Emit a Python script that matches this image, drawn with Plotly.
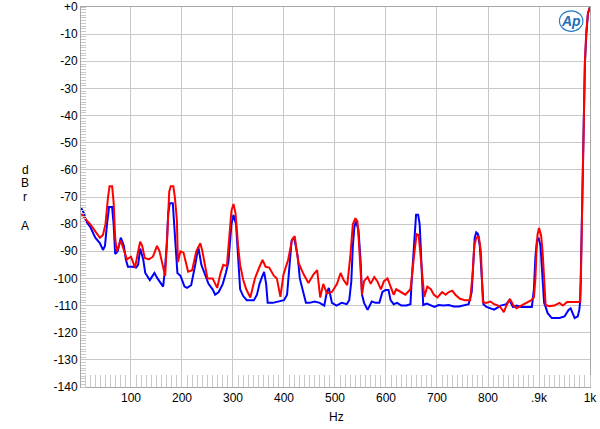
import plotly.graph_objects as go

# Red trace (Hz, dBrA)
red_hz = [2, 10, 20, 30, 39, 45, 50, 55, 58, 63, 66, 69, 72, 76, 80, 85, 92, 100, 108, 113,
          118, 122, 127, 135, 143, 151, 156, 162, 167, 171, 175, 178, 183, 186, 190, 192, 197, 203, 212, 220,
          228, 236, 240, 245, 250, 260, 269, 275, 281, 288, 293, 297, 301, 305, 310, 314, 320, 326, 334, 343,
          352, 358, 364, 371, 380, 386, 393, 399, 408, 416, 421, 428, 438, 448, 458, 465, 471, 477, 484, 494,
          504, 511, 517, 524, 530, 535, 540, 544, 547, 550, 553, 557, 564, 570, 577, 583, 590, 596, 603, 609,
          615, 620, 628, 638, 648, 652, 656, 660, 664, 667, 671, 675, 681, 688, 694, 701, 710, 717, 723, 730,
          736, 745, 755, 765, 770, 773, 777, 782, 786, 790, 796, 805, 812, 820, 826, 831, 836, 843, 850, 856,
          865, 875, 885, 890, 893, 895, 897, 900, 904, 907, 910, 913, 920, 930, 940, 947, 955, 965, 975, 980,
          982, 986, 988, 990, 992.5, 996, 1000]
red_db = [-76, -78, -80, -82.5, -85, -84, -80, -70, -66, -66, -72, -85, -90, -88, -86, -89, -93, -92, -96, -91,
          -86.5, -88, -92.5, -93, -92, -88, -90, -95, -99, -85, -68, -66, -66, -70, -78.5, -94, -90, -90.5, -97.5, -97,
          -90, -87, -90, -95, -100, -100, -103.5, -98.5, -95, -95.5, -85, -75, -72.6, -76, -88, -95, -100.5, -104, -107, -100,
          -95.7, -93.2, -95.7, -96, -99, -100, -106.8, -98.5, -93.2, -85.6, -84.4, -94, -98.3, -101.7, -98.5, -96.9, -107, -102, -105.5, -105,
          -102, -98, -100.6, -102.5, -92, -80, -77.8, -79, -87, -97, -106, -101, -99.5, -102, -99.5, -101, -104, -101, -100, -103,
          -106, -104, -105, -106, -104, -98, -90, -83.7, -84, -90, -100, -106.8, -103, -104, -106, -107, -105, -106, -105, -104.5,
          -106, -107.5, -108, -108, -98, -88, -85, -84.6, -90, -108.7, -109, -108.5, -109.5, -110, -111, -112.4, -110, -107.6, -110, -111,
          -110, -109, -108, -107, -100, -90, -84, -81.4, -84, -90, -100, -109.8, -110.2, -110, -109, -110, -108.7, -108.7, -108.7, -108.7,
          -101.3, -63, -38, -20.7, -9.6, -2.3, 0]

# Blue trace (Hz, dBrA)
blue_hz = [2, 8, 12, 20, 30, 39, 45, 49, 53, 57, 63, 66, 69, 74, 80, 86, 90, 94, 104, 110,
           114, 118, 124, 128, 137, 146, 152, 157, 163, 166, 170, 173, 176, 182, 185, 188, 191, 197, 205, 210,
           218, 226, 232, 238, 246, 252, 260, 265, 272, 280, 286, 291, 297, 301, 306, 311, 314, 320, 327, 334,
           341, 347, 352, 357, 361, 365, 368, 378, 391, 400, 406, 408, 411, 415, 420, 427, 431, 437, 443, 450,
           460, 470, 479, 484, 488, 494, 503, 513, 523, 528, 532, 535, 538, 541, 546, 550, 553, 557, 564, 572,
           580, 587, 593, 599, 605, 609, 615, 622, 630, 640, 648, 650, 653, 656, 659, 663, 666, 668, 670, 673,
           680, 688, 695, 703, 713, 723, 733, 743, 752, 762, 768, 771, 774, 777, 780, 784, 787, 791, 797, 805,
           812, 825, 836, 842, 849, 856, 865, 878, 886, 890, 893, 896, 899, 903, 906, 910, 913, 917, 925, 940,
           950, 958, 962, 967, 970, 976, 979, 981, 983, 986, 988, 990, 993, 996, 1000]
blue_db = [-74, -76, -79, -81, -85, -87, -89.5, -88, -80, -73.7, -73.7, -80, -91, -90, -85, -88, -93, -95.7, -95.7, -96,
           -95, -89, -93, -98, -100.6, -98, -100, -101.5, -103, -98, -88, -76, -72.3, -72.3, -80, -89.5, -98, -99, -103, -103.5,
           -102.5, -95, -88.4, -95, -99, -102, -104, -106, -105, -102, -98, -94, -80, -76.6, -80, -97, -104, -106.5, -108, -108,
           -108, -106, -102, -99.4, -97.6, -102, -109, -109, -108.5, -108, -106, -101, -93, -86, -85, -92, -100, -105, -109, -109,
           -108.5, -109, -110, -105, -103.5, -109, -110, -109, -109.5, -108, -101, -88, -81, -79, -82, -93, -106, -109, -111.6, -108.5,
           -109, -109, -105, -104.3, -104.3, -108, -109.5, -109, -110, -110, -109.5, -102, -93, -82, -76.5, -76.5, -80, -88, -98, -109.8,
           -109.3, -109.8, -110.5, -109.8, -110, -109.8, -110.3, -110.3, -110, -109.5, -105, -92, -85, -83, -83.5, -88, -99, -109.5, -110.5, -111,
           -111.5, -110, -109.5, -108, -110.5, -110, -110.5, -110.5, -110.5, -104, -92, -86, -85, -88, -97, -109, -110.5, -112.8, -114.6, -114.6,
           -114, -111.6, -111, -113, -114.6, -114, -111.6, -108, -90, -63, -38, -20.7, -9.6, -2.3, 0]

x_ticks = [100, 200, 300, 400, 500, 600, 700, 800, 900, 1000]
x_labels = ["100", "200", "300", "400", "500", "600", "700", "800", ".9k", "1k"]
y_ticks = list(range(-140, 1, 10))
y_labels = ["+0" if v == 0 else str(v) for v in y_ticks]

fig = go.Figure()
fig.add_trace(go.Scatter(x=blue_hz, y=blue_db, mode="lines",
                         line=dict(color="#0000ff", width=2)))
fig.add_trace(go.Scatter(x=red_hz, y=red_db, mode="lines",
                         line=dict(color="#ff0000", width=2)))

grid = "#c8c8c8"
font = dict(family="Arial, Liberation Sans", size=12, color="black")
fig.update_xaxes(range=[2, 1000], tickvals=x_ticks, ticktext=x_labels, automargin=False,
                 showgrid=True, gridcolor=grid, gridwidth=1,
                 showline=True, linecolor="#a8a8a8", linewidth=1, mirror=True,
                 ticks="", zeroline=False,
                 minor=dict(ticks="inside", dtick=10, tick0=0, ticklen=12,
                            tickcolor="#c8c8c8", tickwidth=1, showgrid=False),
                 tickfont=font)
fig.update_yaxes(range=[-140, 0], tickvals=y_ticks, ticktext=y_labels, automargin=False,
                 showgrid=True, gridcolor=grid, gridwidth=1,
                 showline=True, linecolor="#a8a8a8", linewidth=1, mirror=True,
                 ticks="", zeroline=False,
                 minor=dict(ticks="inside", dtick=1, tick0=0, ticklen=5,
                            tickcolor="#c8c8c8", tickwidth=1, showgrid=False),
                 tickfont=font)

# dBrA label, one letter per line
for letter, yv in [("d", -60), ("B", -65), ("r", -70), ("A", -80.7)]:
    fig.add_annotation(text=letter, xref="paper", yref="y", x=-0.11, y=yv,
                       xanchor="center", yanchor="middle", showarrow=False, font=font)

fig.add_annotation(text="Hz", xref="x", yref="paper", x=503, y=-0.079,
                   xanchor="center", yanchor="middle", showarrow=False, font=font)

# AP logo
fig.add_shape(type="circle", xref="paper", yref="paper", x0=0.94, x1=0.986, y0=0.936, y1=0.99,
              line=dict(color="#2a7fc0", width=1.2))
fig.add_annotation(text="<i><b>Ap</b></i>", xref="paper", yref="paper", x=0.962, y=0.963,
                   xanchor="center", yanchor="middle", showarrow=False,
                   font=dict(family="Arial, Liberation Sans", size=14, color="#1f6fb8"))

fig.update_layout(width=600, height=429, showlegend=False,
                  paper_bgcolor="white", plot_bgcolor="white",
                  margin=dict(l=81, r=10, t=7, b=42))

# drop the default body margin so the figure fills the window exactly
fig.write_html("out.html", config={"displayModeBar": False},
               post_script="document.body.style.margin='0px';")
